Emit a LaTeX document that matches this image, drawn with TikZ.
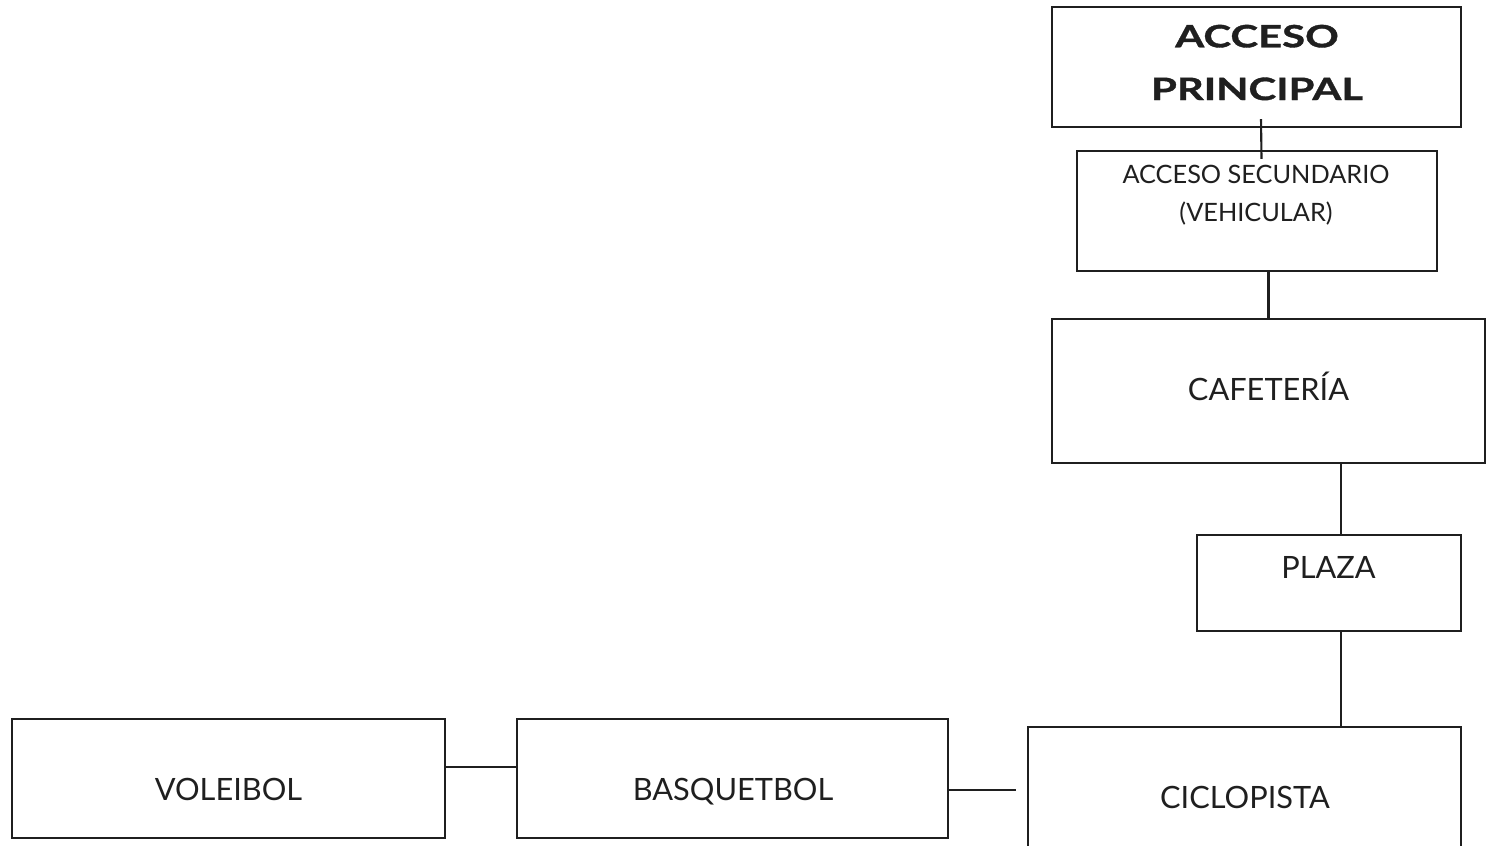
\documentclass[tikz,border=0pt]{standalone}
\usepackage{fontspec}
\setmainfont{Lato}
\newfontfamily\widebold{Lato}[FakeStretch=1.36, FakeBold=1.2]
\usepackage{tikz}

\begin{document}
\begin{tikzpicture}[x=0.02cm, y=0.02cm,
      box/.style={draw=black!88, line width=1.2pt, minimum width=#1,
                  inner sep=0pt, anchor=center},
      lbl/.style={anchor=base, inner sep=0pt, text=black!88,
                  font=\fontsize{17.5}{22}\selectfont},
      link/.style={draw=black!88, line width=1.2pt}
    ]
      \useasboundingbox (0,0) rectangle (1493,-845);

      \node[box=8.18cm, minimum height=2.4cm]  (princ)  at (1256.5,-67)   {};
      \node[box=7.2cm,  minimum height=2.4cm]  (secund) at (1257,-211)    {};
      \node[box=8.66cm, minimum height=2.88cm] (cafe)   at (1268.5,-391)  {};
      \node[box=5.28cm, minimum height=1.92cm] (plaza)  at (1329,-583)    {};
      \node[box=8.66cm, minimum height=2.8cm]  (ciclo)  at (1244.5,-797)  {};
      \node[box=8.62cm, minimum height=2.38cm] (basq)   at (732.5,-778.5) {};
      \node[box=8.66cm, minimum height=2.38cm] (vole)   at (228.5,-778.5) {};

      \node[lbl, align=center, font=\widebold\bfseries\fontsize{17.5}{30}\selectfont]
           (princ-t) at (1257,-100) {ACCESO\\PRINCIPAL};
      \node[lbl, align=center, font=\fontsize{14.4}{21.5}\selectfont]
           (secund-t) at (1256,-221) {ACCESO SECUNDARIO\\(VEHICULAR)};
      \node[lbl] (cafe-t)  at (1268.5,-400) {CAFETERÍA};
      \node[lbl] (plaza-t) at (1328.5,-578) {PLAZA};
      \node[lbl] (ciclo-t) at (1245,-808)   {CICLOPISTA};
      \node[lbl] (basq-t)  at (733,-800)    {BASQUETBOL};
      \node[lbl] (vole-t)  at (228.5,-800)  {VOLEIBOL};

      \coordinate (spine) at (1341,0);
      \coordinate (row1)  at (0,-767);
      \coordinate (row2)  at (0,-790);

      \draw[link] ([shift={(4.5,9)}]princ.south) -- ([shift={(4.5,-9)}]secund.north);
      \draw[link] (cafe.north |- secund.south) -- (cafe.north);
      \draw[link] (spine |- cafe.south) -- (spine |- plaza.north);
      \draw[link] (spine |- plaza.south) -- (spine |- ciclo.north);
      \draw[link] (vole.east |- row1) -- (basq.west |- row1);
      \draw[link] (basq.east |- row2) -- ([xshift=-6]ciclo.west |- row2);
    \end{tikzpicture}
\end{document}
